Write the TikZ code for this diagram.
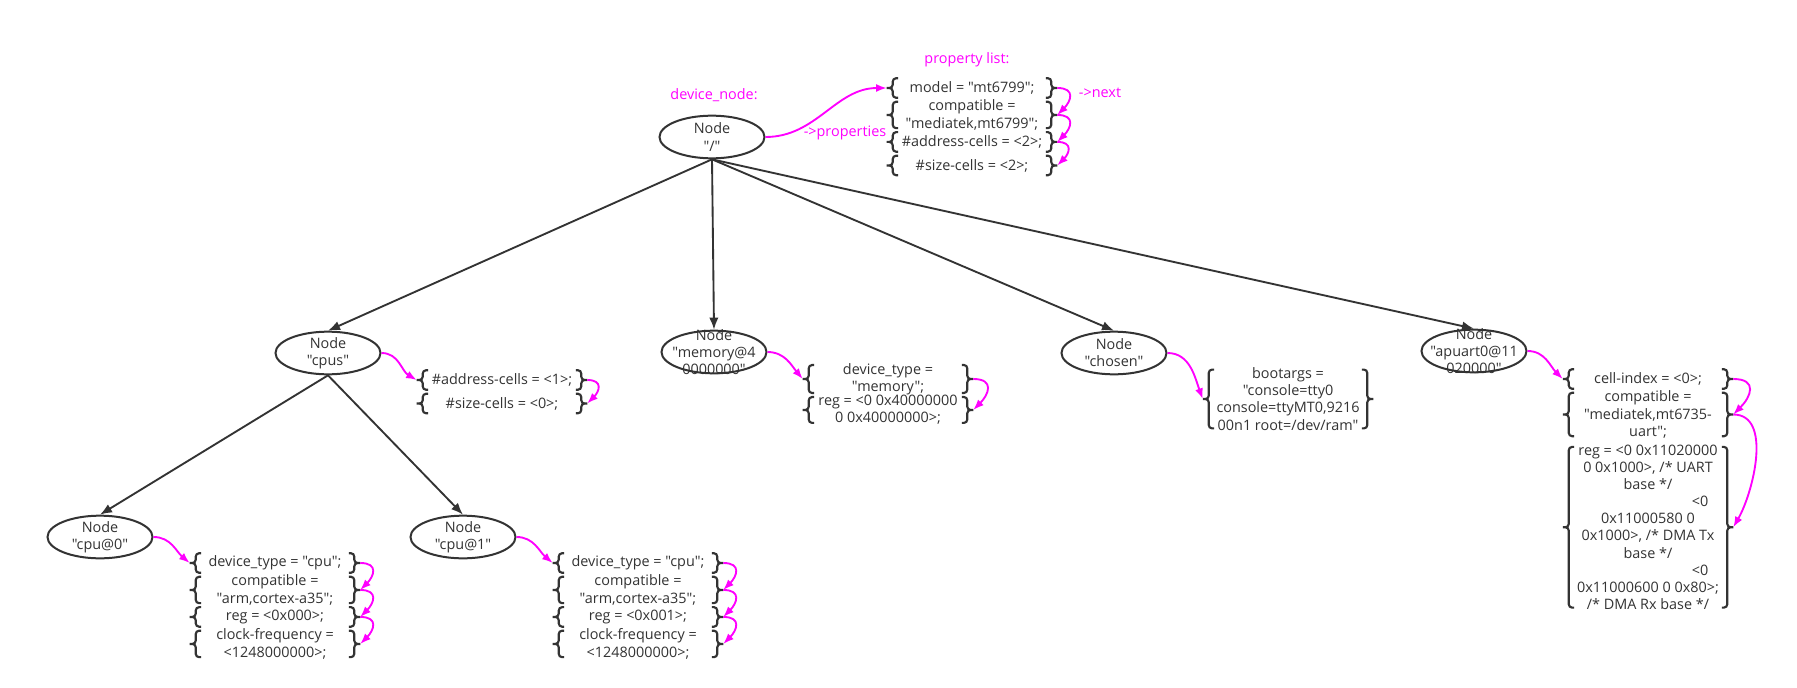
\documentclass[tikz,border=0pt]{standalone}
\usepackage{fontspec}
\setmainfont{Open Sans}[Ligatures=TeXOff]
\usetikzlibrary{arrows.meta,positioning,shapes.geometric}
\definecolor{Ink}{HTML}{333333}
\definecolor{Pink}{HTML}{FF00FF}
\tikzset{
  dnode/.style={ellipse,draw=Ink,line width=1.5pt,fill=white,text=Ink,align=center,minimum width=78.75pt,minimum height=32pt,inner xsep=-5pt,inner ysep=-7pt},
  plist/.style={align=center,text=Ink,minimum width=127.5pt,minimum height=14.25pt,inner ysep=-1.5pt,inner xsep=2pt},
  brk/.style={draw=Ink,line width=1.6pt,rounded corners=2.5pt},
  tree/.style={-{Latex[length=9pt,width=7pt]},line width=1.4pt,draw=Ink},
  link/.style={-{Latex[length=8pt,width=6pt]},line width=1.4pt,draw=Pink},
  pinktext/.style={text=Pink}
}

\begin{document}
\begin{tikzpicture}[x=0.75pt,y=-0.75pt,font=\fontsize{10.8}{12.8}\selectfont,node distance=3pt]
\fill[white] (0,0) rectangle (1797,688);
\useasboundingbox (0,0) rectangle (1797,688);
% device nodes
\node[dnode] (root) at (712,137) {Node\\"/"};
\node[dnode] (cpus) at (328,353) {Node\\"cpus"};
\node[dnode] (mem) at (714,352) {Node\\"memory@4\\0000000"};
\node[dnode] (chosen) at (1114,353) {Node\\"chosen"};
\node[dnode] (uart) at (1474,351) {Node\\"apuart0@11\\020000"};
\node[dnode] (cpu0) at (100,537) {Node\\"cpu@0"};
\node[dnode] (cpu1) at (463,537) {Node\\"cpu@1"};
\node[pinktext] (devlbl) at (714,95) {device\_node:};
\node[pinktext] (plistlbl) at (967,60) {property list:};
% property lists
\node[plist] (p1) at (972,88) {model = "mt6799";};
\node[plist,below=of p1] (p2) {compatible =\\"mediatek,mt6799";};
\node[plist,below=of p2] (p3) {\#address-cells = <2>;};
\node[plist,below=of p3] (p4) {\#size-cells = <2>;};
\node[plist] (c1) at (502,380) {\#address-cells = <1>;};
\node[plist,below=of c1] (c2) {\#size-cells = <0>;};
\node[plist] (m1) at (888,379) {device\_type =\\"memory";};
\node[plist,below=of m1] (m2) {reg = <0 0x40000000\\0 0x40000000>;};
\node[plist] (ch1) at (1288,399) {bootargs =\\"console=tty0\\console=ttyMT0,9216\\00n1 root=/dev/ram"};
\node[plist] (u1) at (1648,379) {cell-index = <0>;};
\node[plist,below=of u1] (u2) {compatible =\\"mediatek,mt6735-\\uart";};
\node[plist,below=8pt of u2] (u3) {reg = <0 0x11020000\\0 0x1000>, /* UART\\base */\\\hspace*{78pt}<0\\0x11000580 0\\0x1000>, /* DMA Tx\\base */\\\hspace*{78pt}<0\\0x11000600 0 0x80>;\\/* DMA Rx base */};
\node[plist] (a1) at (275,563) {device\_type = "cpu";};
\node[plist,below=of a1] (a2) {compatible =\\"arm,cortex-a35";};
\node[plist,below=of a2] (a3) {reg = <0x000>;};
\node[plist,below=of a3] (a4) {clock-frequency =\\<1248000000>;};
\node[plist] (b1) at (638,563) {device\_type = "cpu";};
\node[plist,below=of b1] (b2) {compatible =\\"arm,cortex-a35";};
\node[plist,below=of b2] (b3) {reg = <0x001>;};
\node[plist,below=of b3] (b4) {clock-frequency =\\<1248000000>;};
% braces round each property
\foreach \n in {p1,p2,p3,p4,c1,c2,m1,m2,ch1,u1,u2,u3,a1,a2,a3,a4,b1,b2,b3,b4}{
  \draw[brk] (\n.west) -- ([xshift=4.5pt]\n.west) -- ([xshift=4.5pt]\n.north west) -- ([xshift=8.5pt]\n.north west)
             (\n.west) -- ([xshift=4.5pt]\n.west) -- ([xshift=4.5pt]\n.south west) -- ([xshift=8.5pt]\n.south west);
  \draw[brk] (\n.east) -- ([xshift=-4.5pt]\n.east) -- ([xshift=-4.5pt]\n.north east) -- ([xshift=-8.5pt]\n.north east)
             (\n.east) -- ([xshift=-4.5pt]\n.east) -- ([xshift=-4.5pt]\n.south east) -- ([xshift=-8.5pt]\n.south east);
}
% tree
\foreach \c in {cpus,mem,chosen,uart}
  \draw[tree] (root.south) -- (\c.north);
\draw[tree] (cpus.south) -- (cpu0.north);
\draw[tree] (cpus.south) -- (cpu1.north);
% properties pointers
\draw[link] (root.east) to[out=0,in=180] (p1.west);
\node[pinktext] (proplbl) at (845,133) {->properties};
\draw[link] (cpus.east) to[out=0,in=150] (c1.west);
\draw[link] (mem.east) to[out=0,in=130] (m1.west);
\draw[link] (chosen.east) to[out=0,in=110] (ch1.west);
\draw[link] (uart.east) to[out=0,in=135] (u1.west);
\draw[link] (cpu0.east) to[out=0,in=140] (a1.west);
\draw[link] (cpu1.east) to[out=0,in=140] (b1.west);
% next pointers
\foreach \s/\t in {p1/p2,p2/p3,p3/p4,c1/c2,m1/m2,u1/u2,a1/a2,a2/a3,a3/a4,b1/b2,b2/b3,b3/b4}
  \draw[link] (\s.east) to[out=0,in=45,looseness=1.8] (\t.east);
\draw[link] (u2.east) to[out=0,in=60,looseness=0.9] (u3.east);
\node[pinktext] (nextlbl) at (1100,93) {->next};
\end{tikzpicture}
\end{document}
